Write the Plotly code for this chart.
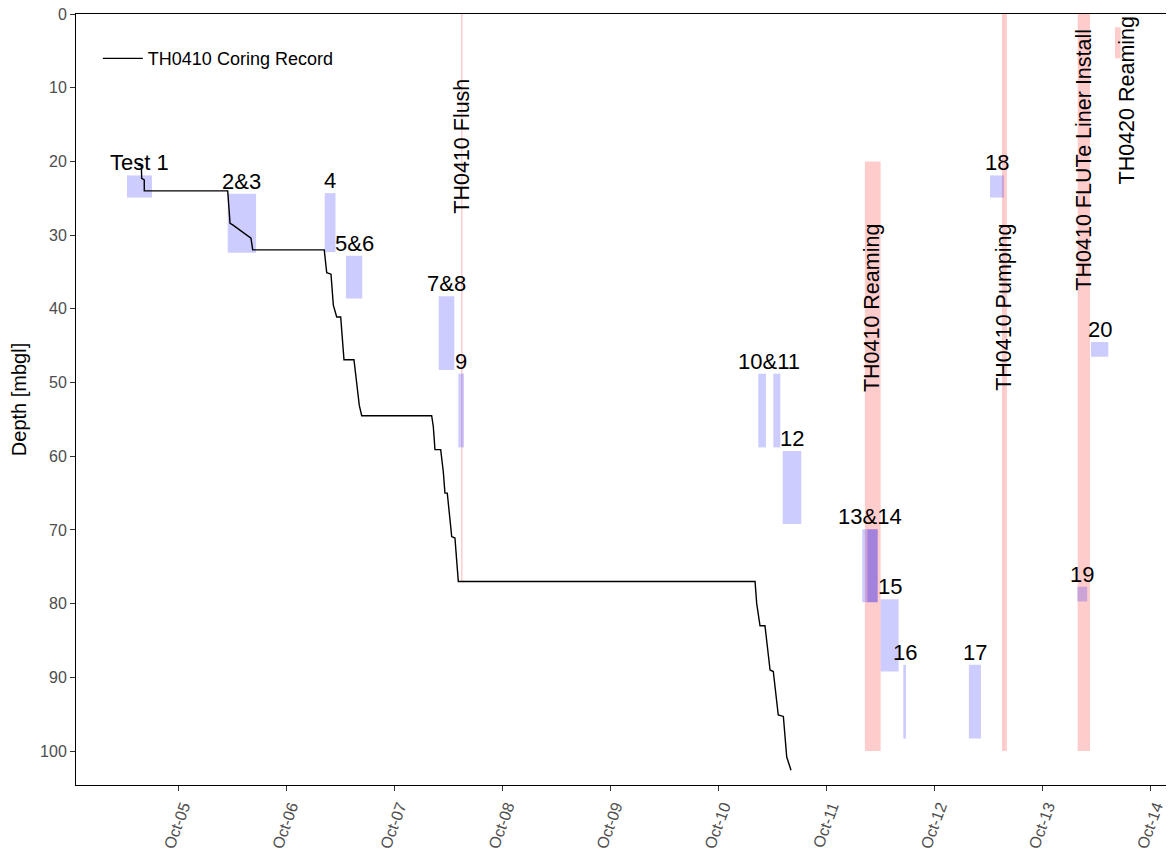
import plotly.graph_objects as go
import pandas as pd

# TH0410 coring record: time vs. depth [mbgl]
core_time = [
    "2016-10-04 15:03", "2016-10-04 15:52", "2016-10-04 15:56", "2016-10-04 16:30", "2016-10-04 16:31",
    "2016-10-05 11:02", "2016-10-05 11:33", "2016-10-05 12:09", "2016-10-05 16:12", "2016-10-05 16:35",
    "2016-10-06 08:28", "2016-10-06 09:01", "2016-10-06 09:58", "2016-10-06 10:29", "2016-10-06 11:14",
    "2016-10-06 12:07", "2016-10-06 12:51", "2016-10-06 15:04", "2016-10-06 16:15", "2016-10-06 16:47",
    "2016-10-07 08:19", "2016-10-07 08:41", "2016-10-07 09:03", "2016-10-07 10:19", "2016-10-07 10:54",
    "2016-10-07 11:16", "2016-10-07 11:47", "2016-10-07 12:14", "2016-10-07 12:46", "2016-10-07 13:29",
    "2016-10-07 13:52", "2016-10-07 14:14",
    "2016-10-10 08:07", "2016-10-10 08:29", "2016-10-10 09:13", "2016-10-10 10:19", "2016-10-10 11:27",
    "2016-10-10 12:10", "2016-10-10 13:16", "2016-10-10 14:24", "2016-10-10 15:09", "2016-10-10 16:06",
]
core_depth = [
    20.5, 20.6, 22.3, 22.5, 24.0,
    24.0, 28.4, 28.6, 30.4, 32.0,
    32.0, 35.1, 35.3, 39.5, 41.1,
    41.1, 46.9, 46.9, 53.1, 54.5,
    54.5, 56.0, 59.1, 59.1, 62.1,
    65.0, 65.0, 68.0, 70.9, 71.1,
    74.1, 77.0,
    77.0, 80.0, 83.0, 83.0, 89.0,
    89.2, 95.1, 95.3, 100.8, 102.6,
]

# test intervals (blue boxes)
test_label = ["Test 1", "2&3", "4", "5&6", "7&8", "9", "10&11", "10&11", "12",
              "13&14", "13&14", "15", "16", "17", "18", "19", "20"]
test_start = ["2016-10-04 12:40", "2016-10-05 11:02", "2016-10-06 08:34", "2016-10-06 13:18",
              "2016-10-07 09:53", "2016-10-07 14:14", "2016-10-10 08:50", "2016-10-10 12:10",
              "2016-10-10 14:15", "2016-10-11 07:55", "2016-10-11 09:03", "2016-10-11 12:00",
              "2016-10-11 17:02", "2016-10-12 07:36", "2016-10-12 12:17", "2016-10-13 07:39",
              "2016-10-13 10:42"]
test_end = ["2016-10-04 18:13", "2016-10-05 17:20", "2016-10-06 10:58", "2016-10-06 16:55",
            "2016-10-07 13:21", "2016-10-07 15:30", "2016-10-10 10:32", "2016-10-10 13:44",
            "2016-10-10 18:23", "2016-10-11 11:21", "2016-10-11 11:21", "2016-10-11 16:00",
            "2016-10-11 17:38", "2016-10-12 10:16", "2016-10-12 15:24", "2016-10-13 09:52",
            "2016-10-13 14:33"]
test_top = [21.9, 24.4, 24.3, 32.8, 38.3, 48.8, 48.8, 48.8, 59.3, 69.9, 69.9, 79.4,
            88.3, 88.3, 21.9, 77.7, 44.5]
test_bottom = [24.9, 32.4, 32.3, 38.6, 48.3, 58.8, 58.8, 58.8, 69.2, 79.8, 79.8, 89.2,
               98.3, 98.3, 24.9, 79.7, 46.5]

# other activities (red bars)
act_label = ["TH0410 Flush", "TH0410 Reaming", "TH0410 Pumping",
             "TH0410 FLUTe Liner Install", "TH0420 Reaming"]
act_start = ["2016-10-07 14:50", "2016-10-11 08:30", "2016-10-12 14:56",
             "2016-10-13 07:45", "2016-10-13 16:02"]
act_end = ["2016-10-07 15:10", "2016-10-11 12:00", "2016-10-12 16:02",
           "2016-10-13 10:29", "2016-10-13 17:17"]
act_top = [0, 20, 0, 0, 1.8]
act_bottom = [77, 100, 100, 100, 6.0]
act_text_time = ["2016-10-07 15:00", "2016-10-11 10:15", "2016-10-12 15:30",
                 "2016-10-13 09:05", "2016-10-13 18:45"]
act_text_depth = [17.9, 39.8, 39.8, 19.8, 11.7]

tick_vals = ["2016-10-%02d" % d for d in range(5, 15)]

FONT = "Arial, Liberation Sans, sans-serif"
BLUE = "rgba(0,0,255,0.2)"
RED = "rgba(255,0,0,0.2)"

fig = go.Figure()

for s, e, t, b in zip(act_start, act_end, act_top, act_bottom):
    fig.add_shape(type="rect", x0=s, x1=e, y0=t, y1=b, xref="x", yref="y",
                  fillcolor=RED, line=dict(width=0), layer="below")

for s, e, t, b in zip(test_start, test_end, test_top, test_bottom):
    fig.add_shape(type="rect", x0=s, x1=e, y0=t, y1=b, xref="x", yref="y",
                  fillcolor=BLUE, line=dict(width=0), layer="below")

fig.add_trace(go.Scatter(
    x=core_time, y=core_depth, mode="lines", name="TH0410 Coring Record",
    line=dict(color="black", width=1.4),
))

# test labels, one per group, centred above the group
groups = {}
for lab, s, e, t in zip(test_label, test_start, test_end, test_top):
    g = groups.setdefault(lab, [pd.Timestamp(s), pd.Timestamp(e), t])
    g[0] = min(g[0], pd.Timestamp(s))
    g[1] = max(g[1], pd.Timestamp(e))
    g[2] = min(g[2], t)
for lab, (s, e, t) in groups.items():
    fig.add_annotation(x=s + (e - s) / 2, y=t, text=lab, showarrow=False,
                       xanchor="center", yanchor="bottom", yshift=-2,
                       font=dict(family=FONT, size=22, color="black"))

for lab, x, y in zip(act_label, act_text_time, act_text_depth):
    fig.add_annotation(x=x, y=y, text=lab, showarrow=False, textangle=-90,
                       xanchor="center", yanchor="middle",
                       font=dict(family=FONT, size=21.5, color="black"))

fig.update_xaxes(
    type="date", range=["2016-10-04 01:21", "2016-10-14 03:48"],
    tickvals=tick_vals, tickformat="%b-%d", tickangle=-70, ticklabelshift=5,
    ticks="outside", ticklen=5, tickcolor="#333333",
    tickfont=dict(family=FONT, size=16, color="#4d4d4d"),
    showgrid=False, zeroline=False, showline=True, linecolor="black",
    linewidth=1, mirror=True, automargin=False,
)
fig.update_yaxes(
    range=[104.6, 0], tickvals=list(range(0, 101, 10)), ticklabeloverflow="allow",
    ticks="outside", ticklen=5, tickcolor="#333333",
    tickfont=dict(family=FONT, size=16, color="#4d4d4d"),
    title=dict(text="Depth [mbgl]", font=dict(family=FONT, size=20, color="black"),
               standoff=8),
    showgrid=False, zeroline=False, showline=True, linecolor="black",
    linewidth=1, mirror=True, automargin=False,
)
# page body has an 8px margin, so the figure is 8px smaller and shifted
fig.update_layout(
    width=1166, height=846,
    margin=dict(l=68, r=6, t=6, b=69),
    plot_bgcolor="white", paper_bgcolor="white",
    showlegend=True,
    legend=dict(x=0.020, y=0.966, xanchor="left", yanchor="top", itemwidth=40,
                bgcolor="rgba(0,0,0,0)", font=dict(family=FONT, size=18, color="black")),
)

fig.write_html("out.html")
